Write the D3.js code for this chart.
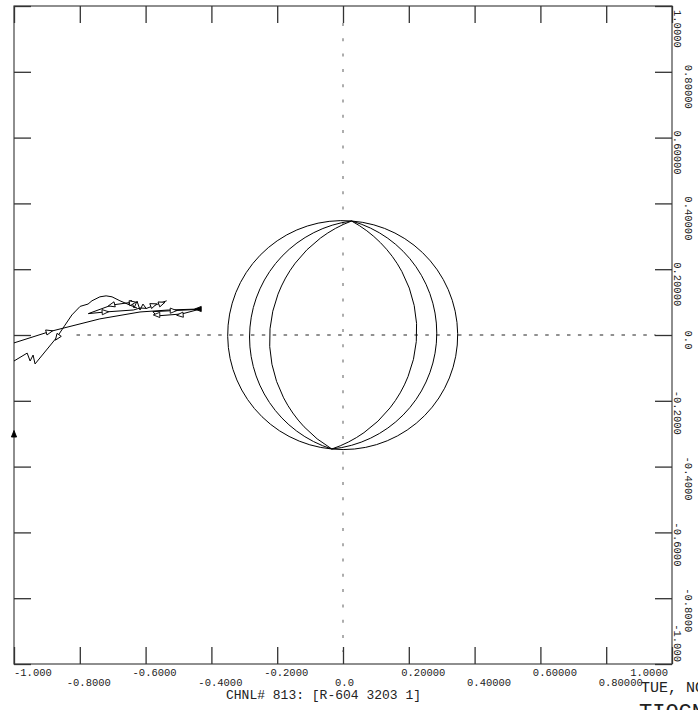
<!DOCTYPE html>
<html>
<head>
<meta charset="utf-8">
<script src="https://cdn.jsdelivr.net/npm/d3@7"></script>
<style>
  html, body { margin: 0; padding: 0; background: #fff; overflow: hidden; }
  svg { display: block; }
  text { font-family: "Liberation Mono", "DejaVu Sans Mono", monospace; fill: #222; }
</style>
</head>
<body>
<script>
// ---------- data ----------
const xTickValues = [-1, -0.8, -0.6, -0.4, -0.2, 0, 0.2, 0.4, 0.6, 0.8, 1];
const xTickLabels = ["-1.000", "-0.8000", "-0.6000", "-0.4000", "-0.2000", "0.0", "0.20000", "0.40000", "0.60000", "0.80000", "1.0000"];
const yTickValues = [1, 0.8, 0.6, 0.4, 0.2, 0, -0.2, -0.4, -0.6, -0.8, -1];
const yTickLabels = ["1.0000", "0.80000", "0.60000", "0.40000", "0.20000", "0.0", "-0.2000", "-0.4000", "-0.6000", "-0.8000", "-1.000"];

const channelTitle = "CHNL# 813: [R-604 3203 1]";
const dateText = "TUE, NOV";
const bigText = "TIOCN";

// locus: apexes shared by all arcs, and where each arc crosses y = 0
const apexTop = [0.026, 0.3465];
const apexBottom = [-0.034, -0.3465];
const arcCrossings = [-0.3505, -0.284, -0.223, 0.224, 0.285, 0.3486];

// trajectory traces (x, y)
const traceA = [[-1.0, -0.024], [-0.893, 0.010], [-0.739, 0.049], [-0.617, 0.070], [-0.530, 0.076], [-0.437, 0.079]];
const traceB = [[-1.0, -0.079], [-0.960, -0.055], [-0.951, -0.079], [-0.942, -0.061], [-0.936, -0.088],
  [-0.869, -0.006], [-0.845, 0.030], [-0.824, 0.061], [-0.799, 0.087], [-0.775, 0.094], [-0.763, 0.104],
  [-0.739, 0.116], [-0.720, 0.119], [-0.702, 0.116], [-0.678, 0.104], [-0.641, 0.088], [-0.626, 0.082]];
const traceC = [[-0.638, 0.100], [-0.703, 0.091], [-0.774, 0.065], [-0.723, 0.070], [-0.637, 0.076],
  [-0.617, 0.082], [-0.597, 0.081], [-0.536, 0.104]];
const traceD = [[-0.578, 0.071], [-0.437, 0.078], [-0.490, 0.064], [-0.566, 0.058], [-0.578, 0.071]];
const traceE = [[-0.653, 0.091], [-0.644, 0.106], [-0.635, 0.082], [-0.626, 0.103], [-0.617, 0.076], [-0.608, 0.094], [-0.597, 0.079]];

// arrow heads: x, y, direction (deg), filled
const arrows = [
  [-0.893, 0.010, -15, false], [-0.868, -0.007, 125, false], [-0.703, 0.091, 166, false],
  [-0.723, 0.070, -4, false], [-0.640, 0.098, -10, false], [-0.576, 0.091, -20, false],
  [-0.551, 0.096, -20, false], [-0.566, 0.061, 180, false], [-0.516, 0.074, 0, false],
  [-0.495, 0.061, 175, false], [-0.440, 0.079, 180, true], [-1.0, -0.301, -90, true]
];

// ---------- drawing ----------
const W = 698, H = 710;
const svg = d3.select("body").append("svg").attr("width", W).attr("height", H);
svg.append("rect").attr("width", W).attr("height", H).attr("fill", "#fff");

const x = d3.scaleLinear().domain([-1, 1]).range([14, 672]);
const y = d3.scaleLinear().domain([-1, 1]).range([664, 6]);
const TL = 17;

// dotted center lines
svg.append("line").attr("x1", x(0)).attr("x2", x(0)).attr("y1", y(1) + TL).attr("y2", y(-1) - 12)
  .attr("stroke", "#777").attr("stroke-width", 1.2).attr("stroke-dasharray", "3,12.3");
svg.append("line").attr("x1", x(-0.81)).attr("x2", x(0.95)).attr("y1", y(0)).attr("y2", y(0))
  .attr("stroke", "#222").attr("stroke-width", 1).attr("stroke-dasharray", "3.5,7.4");

// frame
svg.append("rect").attr("x", x(-1)).attr("y", y(1)).attr("width", x(1) - x(-1)).attr("height", y(-1) - y(1))
  .attr("fill", "none").attr("stroke", "#444").attr("stroke-width", 1.2);

// axes ticks (no labels)
const noLbl = () => "";
const styleAxis = g => { g.select(".domain").remove(); g.selectAll(".tick line").attr("stroke", "#333").attr("stroke-width", 1.3); };
svg.append("g").attr("transform", `translate(0,${y(1)})`)
  .call(d3.axisBottom(x).tickValues(xTickValues).tickSize(TL).tickFormat(noLbl)).call(styleAxis);
svg.append("g").attr("transform", `translate(0,${y(-1)})`)
  .call(d3.axisTop(x).tickValues(xTickValues).tickSize(TL).tickFormat(noLbl)).call(styleAxis);
svg.append("g").attr("transform", `translate(${x(-1)},0)`)
  .call(d3.axisRight(y).tickValues(yTickValues).tickSize(TL).tickFormat(noLbl)).call(styleAxis);
svg.append("g").attr("transform", `translate(${x(1)},0)`)
  .call(d3.axisLeft(y).tickValues(yTickValues).tickSize(TL).tickFormat(noLbl)).call(styleAxis);

// bottom tick labels (two staggered rows)
xTickValues.forEach((v, i) => {
  const row = i % 2;
  let px = x(v) + (v < 0 ? 9 : v > 0 ? 14.5 : 1.5), anchor = "middle";
  if (i === 0) { px = x(v); anchor = "start"; }
  if (i === xTickValues.length - 1) { px = x(v) - 4; anchor = "end"; }
  svg.append("text").attr("x", px).attr("y", row ? 686 : 675.5)
    .attr("text-anchor", anchor).attr("font-size", 10.5).text(xTickLabels[i]);
});

// right tick labels (rotated, staggered columns)
yTickValues.forEach((v, i) => {
  const col = i % 2;
  let py = y(v) + (v > 0 ? 15 : v < 0 ? 12 : 5), anchor = "middle";
  if (i === 0) { py = y(v) + 4; anchor = "start"; }
  if (i === yTickValues.length - 1) { py = y(v) - 2; anchor = "end"; }
  const px = col ? 685 : 673.5;
  svg.append("text").attr("transform", `translate(${px},${py}) rotate(90)`)
    .attr("text-anchor", anchor).attr("font-size", 10.5).text(yTickLabels[i]);
});

// titles
svg.append("text").attr("x", 226).attr("y", 699).attr("font-size", 13).text(channelTitle);
svg.append("text").attr("x", 641).attr("y", 692).attr("font-size", 15).text(dateText);
svg.append("text").attr("x", 639).attr("y", 719).attr("font-size", 22).text(bigText);

// locus arcs through three points
function arc3(p0, pm, p1) {
  const [ax, ay] = p0, [bx, by] = pm, [cx, cy] = p1;
  const d = 2 * (ax * (by - cy) + bx * (cy - ay) + cx * (ay - by));
  const ux = ((ax * ax + ay * ay) * (by - cy) + (bx * bx + by * by) * (cy - ay) + (cx * cx + cy * cy) * (ay - by)) / d;
  const uy = ((ax * ax + ay * ay) * (cx - bx) + (bx * bx + by * by) * (ax - cx) + (cx * cx + cy * cy) * (bx - ax)) / d;
  const r = Math.hypot(ax - ux, ay - uy);
  const a0 = Math.atan2(ay - uy, ax - ux), am = Math.atan2(by - uy, bx - ux), a1 = Math.atan2(cy - uy, cx - ux);
  const T = 2 * Math.PI, norm = a => ((a % T) + T) % T;
  const ccw = !(norm(am - a0) < norm(a1 - a0));
  const p = d3.path();
  p.moveTo(ax, ay);
  p.arc(ux, uy, r, a0, a1, ccw);
  return p.toString();
}
const P = d => [x(d[0]), y(d[1])];
svg.append("g").selectAll("path").data(arcCrossings).join("path")
  .attr("d", c => arc3(P(apexTop), P([c, 0]), P(apexBottom)))
  .attr("fill", "none").attr("stroke", "#000").attr("stroke-width", 1);

// trajectory
const line = d3.line().x(d => x(d[0])).y(d => y(d[1]));
svg.append("g").selectAll("path").data([traceA, traceB, traceC, traceD, traceE]).join("path")
  .attr("d", line).attr("fill", "none").attr("stroke", "#000").attr("stroke-width", 1);

// arrow heads
svg.append("g").selectAll("path").data(arrows).join("path")
  .attr("transform", d => `translate(${x(d[0])},${y(d[1])}) rotate(${d[2]})`)
  .attr("d", "M3.5,0L-3,-2.6L-3,2.6Z")
  .attr("fill", d => d[3] ? "#000" : "#fff").attr("stroke", "#000").attr("stroke-width", 0.9);
</script>
</body>
</html>
